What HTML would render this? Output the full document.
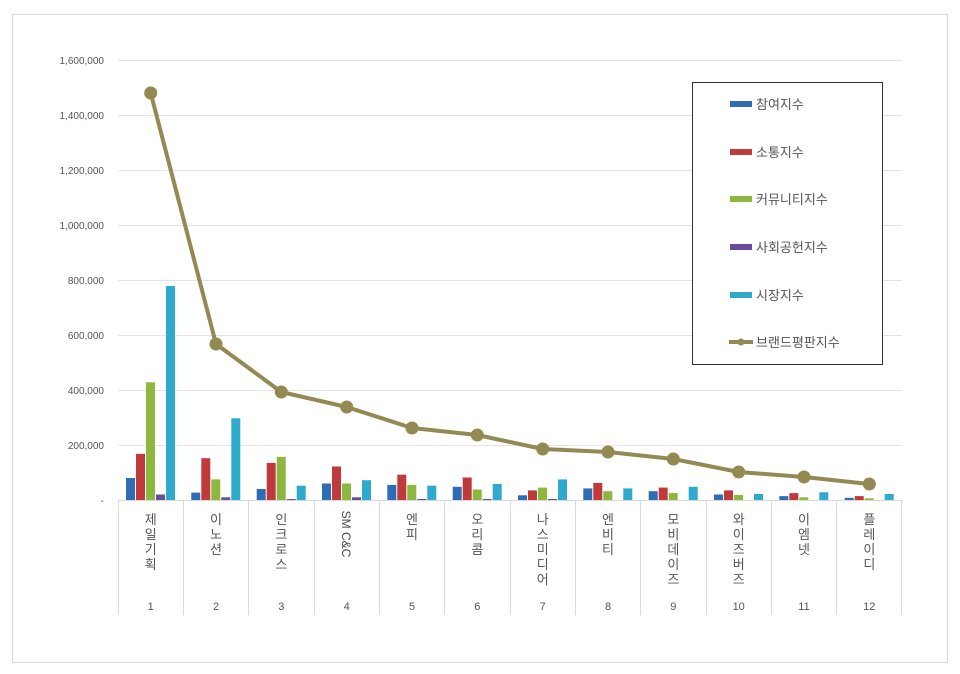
<!DOCTYPE html>
<html><head><meta charset="utf-8"><style>
html,body{margin:0;padding:0;background:#fff;}
svg{display:block;}
text{font-family:"Liberation Sans","Noto Sans CJK KR",sans-serif;fill:#555;}
</style></head><body>
<svg width="960" height="674" viewBox="0 0 960 674" xmlns="http://www.w3.org/2000/svg">
<rect x="12.5" y="14.5" width="935" height="648" fill="#fff" stroke="#d9d9d9"/>
<g stroke="#e3e3e3" stroke-width="1">
<line x1="118" y1="445.5" x2="902" y2="445.5"/>
<line x1="118" y1="390.5" x2="902" y2="390.5"/>
<line x1="118" y1="335.5" x2="902" y2="335.5"/>
<line x1="118" y1="280.5" x2="902" y2="280.5"/>
<line x1="118" y1="225.5" x2="902" y2="225.5"/>
<line x1="118" y1="170.5" x2="902" y2="170.5"/>
<line x1="118" y1="115.5" x2="902" y2="115.5"/>
<line x1="118" y1="60.5" x2="902" y2="60.5"/>
</g>
<g stroke="#d9d9d9" stroke-width="1">
<line x1="118" y1="500.5" x2="902" y2="500.5"/>
<line x1="118.5" y1="500" x2="118.5" y2="615"/>
<line x1="183.5" y1="500" x2="183.5" y2="615"/>
<line x1="248.5" y1="500" x2="248.5" y2="615"/>
<line x1="314.5" y1="500" x2="314.5" y2="615"/>
<line x1="379.5" y1="500" x2="379.5" y2="615"/>
<line x1="444.5" y1="500" x2="444.5" y2="615"/>
<line x1="510.5" y1="500" x2="510.5" y2="615"/>
<line x1="575.5" y1="500" x2="575.5" y2="615"/>
<line x1="640.5" y1="500" x2="640.5" y2="615"/>
<line x1="706.5" y1="500" x2="706.5" y2="615"/>
<line x1="771.5" y1="500" x2="771.5" y2="615"/>
<line x1="836.5" y1="500" x2="836.5" y2="615"/>
<line x1="901.5" y1="500" x2="901.5" y2="615"/>
</g>
<g font-size="10" text-anchor="end">
<text x="104" y="504">-</text>
<text x="104" y="449">200,000</text>
<text x="104" y="394">400,000</text>
<text x="104" y="339">600,000</text>
<text x="104" y="284">800,000</text>
<text x="104" y="229">1,000,000</text>
<text x="104" y="174">1,200,000</text>
<text x="104" y="119">1,400,000</text>
<text x="104" y="64">1,600,000</text>
</g>
<defs>
<g id="x"></g>
</defs>
<!-- bars -->
<g transform="translate(118,0)">
<rect x="8" y="478" width="9" height="22" fill="#2e6db5"/><rect x="18" y="453.8" width="9" height="46.2" fill="#c0393b"/><rect x="28" y="382.3" width="9" height="117.7" fill="#8db73f"/><rect x="38" y="494.5" width="9" height="5.5" fill="#6a4a9c"/><rect x="48" y="286" width="9" height="214" fill="#2fa9cc"/></g>
<g transform="translate(183.3,0)">
<rect x="8" y="492.6" width="9" height="7.4" fill="#2e6db5"/><rect x="18" y="458.2" width="9" height="41.8" fill="#c0393b"/><rect x="28" y="479.4" width="9" height="20.6" fill="#8db73f"/><rect x="38" y="497.3" width="9" height="2.7" fill="#6a4a9c"/><rect x="48" y="418.3" width="9" height="81.7" fill="#2fa9cc"/></g>
<g transform="translate(248.7,0)">
<rect x="8" y="489" width="9" height="11" fill="#2e6db5"/><rect x="18" y="462.9" width="9" height="37.1" fill="#c0393b"/><rect x="28" y="456.8" width="9" height="43.2" fill="#8db73f"/><rect x="38" y="499" width="9" height="1" fill="#6a4a9c"/><rect x="48" y="485.7" width="9" height="14.3" fill="#2fa9cc"/></g>
<g transform="translate(314,0)">
<rect x="8" y="483.5" width="9" height="16.5" fill="#2e6db5"/><rect x="18" y="466.5" width="9" height="33.5" fill="#c0393b"/><rect x="28" y="483.5" width="9" height="16.5" fill="#8db73f"/><rect x="38" y="497.3" width="9" height="2.7" fill="#6a4a9c"/><rect x="48" y="480.2" width="9" height="19.8" fill="#2fa9cc"/></g>
<g transform="translate(379.3,0)">
<rect x="8" y="484.9" width="9" height="15.1" fill="#2e6db5"/><rect x="18" y="474.7" width="9" height="25.3" fill="#c0393b"/><rect x="28" y="484.9" width="9" height="15.1" fill="#8db73f"/><rect x="38" y="499" width="9" height="1" fill="#6a4a9c"/><rect x="48" y="485.7" width="9" height="14.3" fill="#2fa9cc"/></g>
<g transform="translate(444.7,0)">
<rect x="8" y="486.8" width="9" height="13.2" fill="#2e6db5"/><rect x="18" y="477.5" width="9" height="22.5" fill="#c0393b"/><rect x="28" y="489.5" width="9" height="10.5" fill="#8db73f"/><rect x="38" y="499" width="9" height="1" fill="#6a4a9c"/><rect x="48" y="484" width="9" height="16" fill="#2fa9cc"/></g>
<g transform="translate(510,0)">
<rect x="8" y="495.3" width="9" height="4.7" fill="#2e6db5"/><rect x="18" y="490.4" width="9" height="9.6" fill="#c0393b"/><rect x="28" y="487.6" width="9" height="12.4" fill="#8db73f"/><rect x="38" y="499" width="9" height="1" fill="#6a4a9c"/><rect x="48" y="479.4" width="9" height="20.6" fill="#2fa9cc"/></g>
<g transform="translate(575.3,0)">
<rect x="8" y="488.4" width="9" height="11.6" fill="#2e6db5"/><rect x="18" y="483" width="9" height="17" fill="#c0393b"/><rect x="28" y="491.2" width="9" height="8.8" fill="#8db73f"/><rect x="48" y="488.4" width="9" height="11.6" fill="#2fa9cc"/></g>
<g transform="translate(640.7,0)">
<rect x="8" y="491.2" width="9" height="8.8" fill="#2e6db5"/><rect x="18" y="487.6" width="9" height="12.4" fill="#c0393b"/><rect x="28" y="493.1" width="9" height="6.9" fill="#8db73f"/><rect x="48" y="486.8" width="9" height="13.2" fill="#2fa9cc"/></g>
<g transform="translate(706,0)">
<rect x="8" y="494.5" width="9" height="5.5" fill="#2e6db5"/><rect x="18" y="490.4" width="9" height="9.6" fill="#c0393b"/><rect x="28" y="495" width="9" height="5" fill="#8db73f"/><rect x="48" y="494" width="9" height="6" fill="#2fa9cc"/></g>
<g transform="translate(771.3,0)">
<rect x="8" y="496.1" width="9" height="3.9" fill="#2e6db5"/><rect x="18" y="493.1" width="9" height="6.9" fill="#c0393b"/><rect x="28" y="497.3" width="9" height="2.7" fill="#8db73f"/><rect x="48" y="492.3" width="9" height="7.7" fill="#2fa9cc"/></g>
<g transform="translate(836.7,0)">
<rect x="8" y="497.8" width="9" height="2.2" fill="#2e6db5"/><rect x="18" y="496.1" width="9" height="3.9" fill="#c0393b"/><rect x="28" y="498.3" width="9" height="1.7" fill="#8db73f"/><rect x="48" y="494" width="9" height="6" fill="#2fa9cc"/></g>
<!-- line -->
<polyline fill="none" stroke="#938953" stroke-width="4" stroke-linejoin="round" points="150.7,93 216,344 281.3,392 346.7,407 412,428 477.3,435 542.7,449 608,452 673.3,459 738.7,472 804,477 869.3,484"/>
<g fill="#938953">
<circle cx="150.7" cy="93" r="6.5"/><circle cx="216" cy="344" r="6.5"/><circle cx="281.3" cy="392" r="6.5"/><circle cx="346.7" cy="407" r="6.5"/><circle cx="412" cy="428" r="6.5"/><circle cx="477.3" cy="435" r="6.5"/><circle cx="542.7" cy="449" r="6.5"/><circle cx="608" cy="452" r="6.5"/><circle cx="673.3" cy="459" r="6.5"/><circle cx="738.7" cy="472" r="6.5"/><circle cx="804" cy="477" r="6.5"/><circle cx="869.3" cy="484" r="6.5"/>
</g>
<!-- category labels -->
<g font-size="13" text-anchor="middle" style="fill:#444">
<text x="150.7" y="524">제</text><text x="150.7" y="539">일</text><text x="150.7" y="554">기</text><text x="150.7" y="569">획</text>
<text x="216" y="524">이</text><text x="216" y="539">노</text><text x="216" y="554">션</text>
<text x="281.3" y="524">인</text><text x="281.3" y="539">크</text><text x="281.3" y="554">로</text><text x="281.3" y="569">스</text>
<text x="412" y="524">엔</text><text x="412" y="539">피</text>
<text x="477.3" y="524">오</text><text x="477.3" y="539">리</text><text x="477.3" y="554">콤</text>
<text x="542.7" y="524">나</text><text x="542.7" y="539">스</text><text x="542.7" y="554">미</text><text x="542.7" y="569">디</text><text x="542.7" y="584">어</text>
<text x="608" y="524">엔</text><text x="608" y="539">비</text><text x="608" y="554">티</text>
<text x="673.3" y="524">모</text><text x="673.3" y="539">비</text><text x="673.3" y="554">데</text><text x="673.3" y="569">이</text><text x="673.3" y="584">즈</text>
<text x="738.7" y="524">와</text><text x="738.7" y="539">이</text><text x="738.7" y="554">즈</text><text x="738.7" y="569">버</text><text x="738.7" y="584">즈</text>
<text x="804" y="524">이</text><text x="804" y="539">엠</text><text x="804" y="554">넷</text>
<text x="869.3" y="524">플</text><text x="869.3" y="539">레</text><text x="869.3" y="554">이</text><text x="869.3" y="569">디</text>
</g>
<text x="342" y="534" font-size="12" transform="rotate(90 342 534)" text-anchor="middle" style="fill:#444">SM C&amp;C</text>
<g font-size="11" text-anchor="middle">
<text x="150.7" y="610">1</text><text x="216" y="610">2</text><text x="281.3" y="610">3</text><text x="346.7" y="610">4</text><text x="412" y="610">5</text><text x="477.3" y="610">6</text><text x="542.7" y="610">7</text><text x="608" y="610">8</text><text x="673.3" y="610">9</text><text x="738.7" y="610">10</text><text x="804" y="610">11</text><text x="869.3" y="610">12</text>
</g>
<!-- legend -->
<rect x="692.5" y="82.5" width="190" height="282" fill="#fff" stroke="#333" stroke-width="1"/>
<rect x="730" y="101" width="22" height="6" fill="#2e6db5"/>
<rect x="730" y="149" width="22" height="6" fill="#c0393b"/>
<rect x="730" y="196" width="22" height="6" fill="#8db73f"/>
<rect x="730" y="244" width="22" height="6" fill="#6a4a9c"/>
<rect x="730" y="292" width="22" height="6" fill="#2fa9cc"/>
<line x1="729" y1="342" x2="753" y2="342" stroke="#938953" stroke-width="4"/>
<circle cx="741" cy="342" r="3.5" fill="#938953"/>
<g font-size="13" style="fill:#333">
<text x="756" y="109">참여지수</text>
<text x="756" y="157">소통지수</text>
<text x="756" y="204">커뮤니티지수</text>
<text x="756" y="252">사회공헌지수</text>
<text x="756" y="300">시장지수</text>
<text x="756" y="347">브랜드평판지수</text>
</g>
</svg>
</body></html>
